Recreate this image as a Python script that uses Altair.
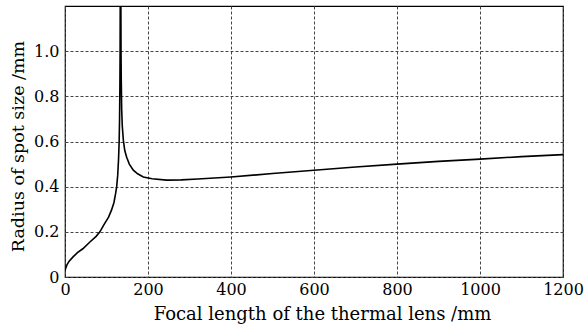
import altair as alt
import pandas as pd

x_vals = [0, 5, 10, 20, 30, 43, 60, 75, 84, 95, 105, 112, 118, 122, 124.5, 127, 129, 130.5, 131.5, 132.3, 132.8, 133.2,
          134.5, 135, 135.5, 136.6, 138, 140.6, 144, 148.6, 155, 164.6, 175, 188.7, 210, 245, 280, 320, 400, 500,
          600, 700, 800, 900, 1000, 1100, 1200]
y_vals = [0.03, 0.055, 0.07, 0.09, 0.108, 0.125, 0.155, 0.18, 0.2, 0.235, 0.265, 0.296, 0.33, 0.37, 0.40, 0.45, 0.52,
          0.6, 0.7, 0.85, 1.0, 1.3,
          1.3, 1.0, 0.88, 0.74, 0.67, 0.606, 0.56, 0.53, 0.5, 0.473, 0.457, 0.443, 0.435, 0.429, 0.43, 0.434, 0.443,
          0.458, 0.473, 0.487, 0.5, 0.512, 0.522, 0.533, 0.542]
x_ticks = [0, 200, 400, 600, 800, 1000, 1200]
y_ticks = [0, 0.2, 0.4, 0.6, 0.8, 1.0]

df = pd.DataFrame({"x": x_vals, "y": y_vals, "order": list(range(len(x_vals)))})

font = "DejaVu Serif"
axis_common = dict(labelFont=font, titleFont=font, labelFontSize=16,
                   labelColor="black", titleColor="black", titleFontWeight="normal",
                   grid=True, gridColor="#444", gridDash=[3, 2], gridWidth=1,
                   domain=False, tickSize=0, labelFlush=False)

chart = alt.Chart(df).mark_line(color="black", strokeWidth=1.6, clip=True).encode(
    x=alt.X("x:Q", scale=alt.Scale(domain=[0, 1200], nice=False, zero=False),
            axis=alt.Axis(values=x_ticks, title="Focal length of the thermal lens /mm",
                          labelPadding=4, titlePadding=8, titleFontSize=18, titleX=257,
                          format="d", **axis_common)),
    y=alt.Y("y:Q", scale=alt.Scale(domain=[0, 1.2], nice=False),
            axis=alt.Axis(values=y_ticks, title="Radius of spot size /mm",
                          labelExpr="datum.value == 0 ? '0' : format(datum.value, '.1f')",
                          labelPadding=6, titlePadding=6, titleFontSize=17.5, titleY=140,
                          **axis_common)),
    order="order:Q",
).properties(
    width=498, height=271,
    autosize=alt.AutoSizeParams(type="none"),
    padding={"left": 65, "top": 6, "right": 23, "bottom": 51},
).configure_view(
    stroke="black", strokeWidth=1.2
)

chart.save("out.html", embed_options={"renderer": "svg", "actions": False})
